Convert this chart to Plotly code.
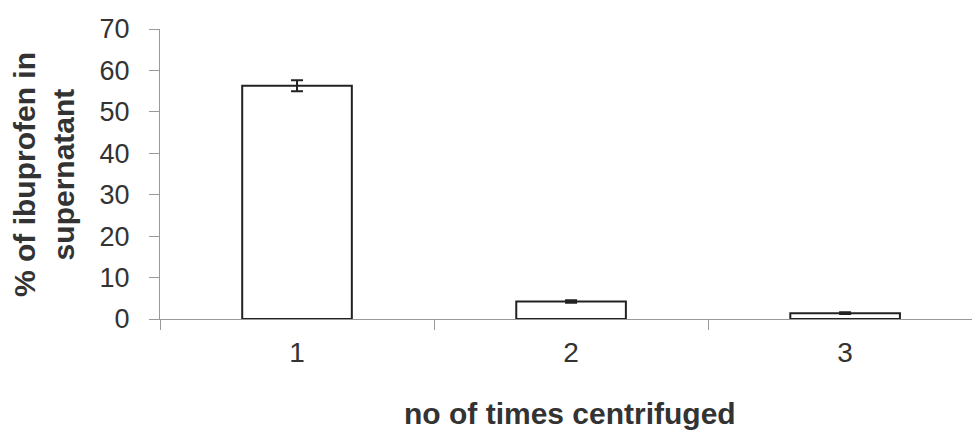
import plotly.graph_objects as go

# Number of centrifugation cycles and ibuprofen remaining in the supernatant
cycles = ["1", "2", "3"]
percent_supernatant = [56.3, 4.2, 1.4]
error = [1.3, 0.3, 0.2]
y_ticks = [0, 10, 20, 30, 40, 50, 60, 70]

fig = go.Figure()
fig.add_trace(go.Bar(
    x=cycles,
    y=percent_supernatant,
    marker=dict(color="white", line=dict(color="#222222", width=2)),
    error_y=dict(type="data", array=error, visible=True,
                 color="#222222", thickness=2, width=6),
    width=0.4,
))

fig.update_layout(
    width=972, height=434,
    margin=dict(l=160, r=0, t=29, b=115),
    paper_bgcolor="white", plot_bgcolor="white",
    showlegend=False,
    font=dict(family="Liberation Sans, Arial, sans-serif", color="#333333"),
)

fig.update_xaxes(
    type="category",
    range=[-0.5, 2.463],
    showline=True, linecolor="#999999", linewidth=1,
    ticks="outside", tickson="boundaries", ticklen=10, tickcolor="#999999",
    ticklabelstandoff=8,
    tickfont=dict(size=28, color="#333333"),
    showgrid=False, zeroline=False,
)
fig.update_yaxes(
    range=[0, 70], tickvals=y_ticks,
    showline=True, linecolor="#999999", linewidth=1,
    ticks="outside", ticklen=10, tickcolor="#999999",
    ticklabelstandoff=14,
    tickfont=dict(size=27, color="#333333"),
    showgrid=False, zeroline=False,
)

fig.add_annotation(
    text="<b>% of ibuprofen in<br>supernatant</b>",
    xref="paper", yref="paper",
    x=(44 - 160) / 812, y=(319 - 175) / 290,
    xanchor="center", yanchor="middle",
    textangle=-90, showarrow=False,
    font=dict(size=30, color="#333333"),
)
fig.add_annotation(
    text="<b>no of times centrifuged</b>",
    xref="paper", yref="paper",
    x=(570 - 160) / 812, y=-(413 - 319) / 290,
    xanchor="center", yanchor="middle",
    showarrow=False,
    font=dict(size=30, color="#333333"),
)

fig.write_html("out.html")
